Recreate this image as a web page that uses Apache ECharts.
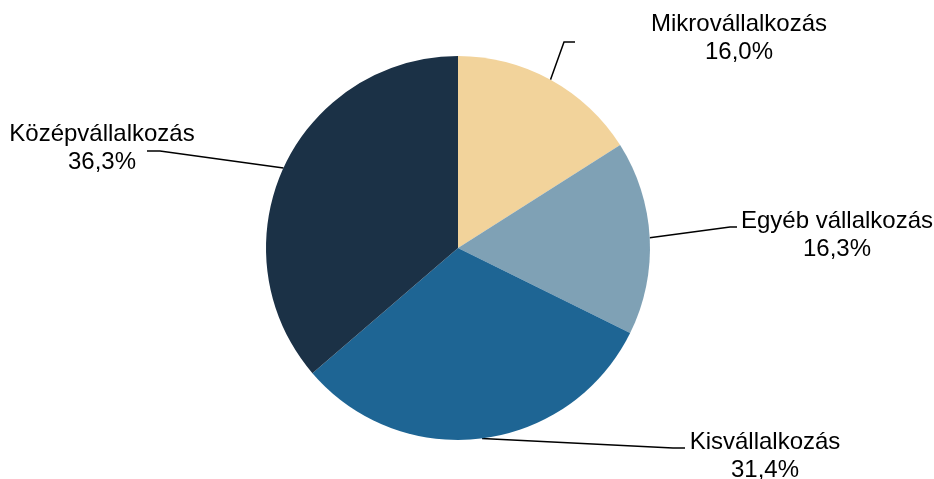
<!DOCTYPE html>
<html>
<head>
<meta charset="utf-8">
<script src="https://cdn.jsdelivr.net/npm/echarts@6/dist/echarts.min.js"></script>
<style>html,body{margin:0;padding:0;background:#fff}#c{width:934px;height:479px}</style>
</head>
<body>
<div id="c"></div>
<script>
const categories = ['Mikrovállalkozás', 'Egyéb vállalkozás', 'Kisvállalkozás', 'Középvállalkozás'];
const shares = [16.0, 16.3, 31.4, 36.3];
const colors = ['#F2D39B', '#7FA1B5', '#1E6594', '#1B3146'];

// label placement (block centers) and label-line bends
const labelPos = [
  { x: 739, y: 38, bend: [[564, 42], [575, 42]] },
  { x: 837, y: 235, bend: [[730, 227], [737, 227]] },
  { x: 765, y: 456, bend: [[673, 448], [685, 448]] },
  { x: 102, y: 148, bend: [[160, 151], [147, 151]] }
];

const chart = echarts.init(document.getElementById('c'));
chart.setOption({
  animation: false,
  backgroundColor: '#ffffff',
  series: [{
    type: 'pie',
    center: [458, 248],
    radius: 192,
    startAngle: 90,
    clockwise: true,
    color: colors,
    itemStyle: { borderWidth: 0 },
    label: {
      show: true,
      position: 'outside',
      fontFamily: '"Liberation Sans", Arial, sans-serif',
      fontSize: 24,
      lineHeight: 28,
      color: '#000',
      align: 'center',
      formatter: p => p.name + '\n' + p.value.toFixed(1).replace('.', ',') + '%'
    },
    labelLine: {
      show: true,
      length: 20,
      length2: 10,
      lineStyle: { color: '#000', width: 1.5 }
    },
    labelLayout: function (params) {
      const lp = labelPos[params.dataIndex];
      const start = params.labelLinePoints ? params.labelLinePoints[0] : null;
      const res = { x: lp.x, y: lp.y, align: 'center', verticalAlign: 'middle' };
      if (start) res.labelLinePoints = [start, lp.bend[0], lp.bend[1]];
      return res;
    },
    data: categories.map((n, i) => ({ name: n, value: shares[i] }))
  }]
});
</script>
</body>
</html>
